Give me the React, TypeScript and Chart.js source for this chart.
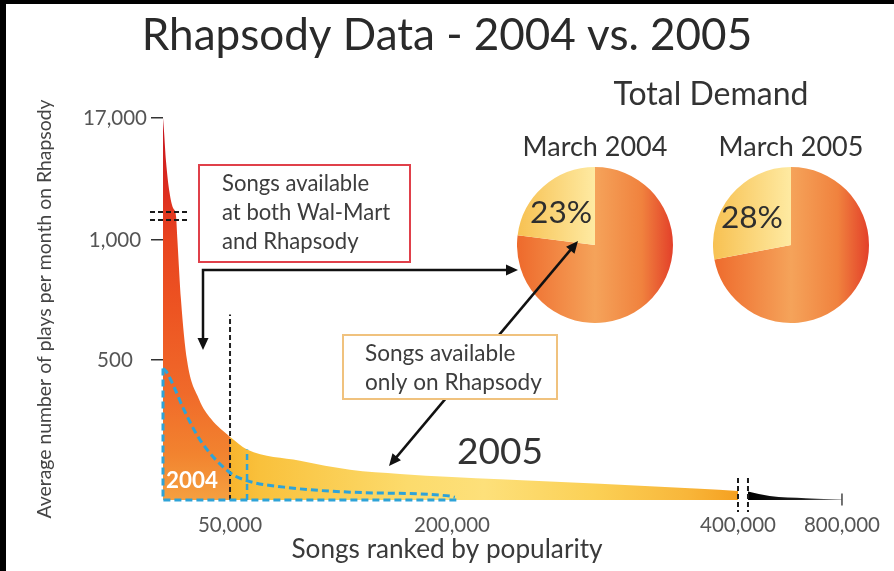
import React, { useEffect, useRef } from 'react';
import { Chart, LinearScale, registerables } from 'chart.js';

// ---------------- data ----------------
const TITLE = 'Rhapsody Data - 2004 vs. 2005';
const X_TITLE = 'Songs ranked by popularity';
const Y_TITLE = 'Average number of plays per month on Rhapsody';

const X_TICKS = [50000, 200000, 400000, 800000];
const Y_TICKS = [500, 1000, 17000];

// 2005 curve, head: songs available at both Wal-Mart and Rhapsody
const RANK_2005_BOTH = [0, 700, 2240, 4850, 7460, 9700, 10750, 13430, 17900, 26870, 35800, 50000];
const PLAYS_2005_BOTH = [17000, 15000, 10000, 5000, 2500, 1150, 1000, 750, 500, 360, 290, 225];
// 2005 curve, songs available only on Rhapsody
const RANK_2005_ONLY = [50000, 61500, 97300, 131100, 164900, 200000, 233600, 303500, 373400, 400000];
const PLAYS_2005_ONLY = [225, 180, 140, 108, 93, 82, 74, 58, 40, 32];
// 2005 curve beyond the axis break
const RANK_2005_TAIL = [410000, 500000, 650000, 800000];
const PLAYS_2005_TAIL = [30, 14, 6, 1.5];
// 2004 curve
const RANK_2004 = [0, 2240, 8580, 14900, 27600, 49250, 60800, 86500, 131100, 198600, 202000];
const PLAYS_2004 = [470, 460, 400, 330, 215, 100, 70, 46, 28, 14, 10];
// cut-off markers (rank, height of the marker)
const CUTOFF_2005 = [50000, 690];
const CUTOFF_2004 = [61500, 180];

// Total demand pies: [both Wal-Mart and Rhapsody, only on Rhapsody]
const PIE_LABELS = ['Songs available at both Wal-Mart and Rhapsody', 'Songs available only on Rhapsody'];
const PIE_MONTHS = ['March 2004', 'March 2005'];
const PIE_2004 = [77, 23];
const PIE_2005 = [72, 28];

// ---------------- broken axis scale ----------------
const FONT = 'Lato';
const INK = '#333333';
const BLUE = '#2ea3d8';

// value -> fraction of axis length (piecewise, with axis breaks)
const BREAKS: Record<string, number[][]> = {
  x: [[0, 0], [50000, 0.0927], [200000, 0.3997], [400000, 0.7953], [410000, 0.8091], [800000, 0.9391]],
  y: [[0, 0], [500, 0.3665], [1000, 0.6806], [1150, 0.7435], [17000, 1]],
};
const Y_BREAK_VALUE = 1150;
const X_BREAK = [400000, 410000];

class BrokenLinearScale extends LinearScale {
  static id = 'brokenLinear';
  static defaults = LinearScale.defaults;
  getPixelForValue(value: any) {
    if (value === null || value === undefined || isNaN(value)) return NaN;
    const s = BREAKS[(this as any).id];
    let i = 1;
    while (i < s.length - 1 && value > s[i][0]) i++;
    const [v0, f0] = s[i - 1];
    const [v1, f1] = s[i];
    return this.getPixelForDecimal(f0 + ((value - v0) / (v1 - v0)) * (f1 - f0));
  }
  getValueForPixel(pixel: number) {
    const dec = this.getDecimalForPixel(pixel);
    const s = BREAKS[(this as any).id];
    let i = 1;
    while (i < s.length - 1 && dec > s[i][1]) i++;
    const [v0, f0] = s[i - 1];
    const [v1, f1] = s[i];
    return v0 + ((dec - f0) / (f1 - f0)) * (v1 - v0);
  }
}

Chart.register(...registerables, BrokenLinearScale);

const pts = (xs: number[], ys: number[]) => xs.map((x, i) => ({ x, y: ys[i] }));
const fmt = (v: any) => Number(v).toLocaleString('en-US');

function arrowHead(ctx: CanvasRenderingContext2D, fx: number, fy: number, tx: number, ty: number, len = 12, half = 5.5) {
  const a = Math.atan2(ty - fy, tx - fx);
  ctx.beginPath();
  ctx.moveTo(tx, ty);
  ctx.lineTo(tx - len * Math.cos(a) + half * Math.sin(a), ty - len * Math.sin(a) - half * Math.cos(a));
  ctx.lineTo(tx - len * Math.cos(a) - half * Math.sin(a), ty - len * Math.sin(a) + half * Math.cos(a));
  ctx.closePath();
  ctx.fill();
}

function seg(ctx: CanvasRenderingContext2D, x1: number, y1: number, x2: number, y2: number) {
  ctx.beginPath();
  ctx.moveTo(x1, y1);
  ctx.lineTo(x2, y2);
  ctx.stroke();
}

const W = 894;
const H = 571;
const PIE_TOP = 125;

export default function App() {
  const mainRef = useRef<HTMLCanvasElement>(null);
  const pieARef = useRef<HTMLCanvasElement>(null);
  const pieBRef = useRef<HTMLCanvasElement>(null);

  useEffect(() => {
    const m = document.createElement('canvas').getContext('2d')!;
    const fit = (text: string, width: number, weight = '400') => {
      m.font = `${weight} 100px ${FONT}`;
      return Math.round((1000 * width) / m.measureText(text).width) / 10;
    };
    const S = {
      title: fit(TITLE, 610),
      xTitle: fit(X_TITLE, 311),
      yTitle: fit(Y_TITLE, 420),
      tick: fit('17,000', 64),
      demand: fit('Total Demand', 195),
      month: fit('March 2004', 145),
      pct: fit('23%', 62),
      red: fit('at both Wal-Mart', 168),
      yel: fit('only on Rhapsody', 177),
      big: fit('2005', 86),
      small: fit('2004', 52, '700'),
    };

    const notes = {
      id: 'notes',
      afterDraw(chart: any) {
        const ctx: CanvasRenderingContext2D = chart.ctx;
        const xs = chart.scales.x;
        const ys = chart.scales.y;
        ctx.save();
        // axis breaks
        ctx.strokeStyle = '#1a1a1a';
        ctx.lineWidth = 2;
        ctx.setLineDash([5, 3]);
        const yb = ys.getPixelForValue(Y_BREAK_VALUE);
        [yb - 4, yb + 4].forEach((y) => seg(ctx, xs.left - 13, y, xs.left + 24, y));
        X_BREAK.forEach((v) => {
          const x = xs.getPixelForValue(v);
          seg(ctx, x, ys.bottom - 22, x, ys.bottom + 12);
        });
        ctx.setLineDash([]);

        ctx.textBaseline = 'middle';
        // white 2004 label
        ctx.fillStyle = '#ffffff';
        ctx.font = `700 ${S.small}px ${FONT}`;
        ctx.textAlign = 'center';
        ctx.fillText('2004', 192, 481);

        // arrows
        ctx.strokeStyle = '#111';
        ctx.fillStyle = '#111';
        ctx.lineWidth = 2.5;
        ctx.beginPath();
        ctx.moveTo(506, 270);
        ctx.lineTo(203, 270);
        ctx.lineTo(203, 338);
        ctx.stroke();
        arrowHead(ctx, 203, 270, 518, 270);
        arrowHead(ctx, 203, 270, 203, 350);

        const p1 = [389, 466];
        const p2 = [578, 241];
        const a = Math.atan2(p2[1] - p1[1], p2[0] - p1[0]);
        seg(ctx, p1[0] + 11 * Math.cos(a), p1[1] + 11 * Math.sin(a), p2[0] - 11 * Math.cos(a), p2[1] - 11 * Math.sin(a));
        arrowHead(ctx, p1[0], p1[1], p2[0], p2[1]);
        arrowHead(ctx, p2[0], p2[1], p1[0], p1[1]);

        // boxes
        ctx.lineWidth = 2;
        ctx.fillStyle = '#fff';
        ctx.strokeStyle = '#e0404a';
        ctx.fillRect(199, 165, 211, 97);
        ctx.strokeRect(199, 165, 211, 97);
        ctx.fillStyle = '#fff';
        ctx.strokeStyle = '#f0c27e';
        ctx.fillRect(343, 335, 214, 64);
        ctx.strokeRect(343, 335, 214, 64);

        ctx.fillStyle = '#3d3d3d';
        ctx.textAlign = 'left';
        ctx.font = `400 ${S.red}px ${FONT}`;
        ['Songs available', 'at both Wal-Mart', 'and Rhapsody'].forEach((t, i) => ctx.fillText(t, 222, 184 + i * 29));
        ctx.font = `400 ${S.yel}px ${FONT}`;
        ['Songs available', 'only on Rhapsody'].forEach((t, i) => ctx.fillText(t, 365, 354 + i * 29));

        ctx.textAlign = 'center';
        ctx.fillStyle = INK;
        ctx.font = `400 ${S.big}px ${FONT}`;
        ctx.fillText('2005', 500, 452);
        ctx.font = `400 ${S.demand}px ${FONT}`;
        ctx.fillText('Total Demand', 711, 95);
        ctx.restore();
      },
    };

    const headFill = (c: any) => {
      const a = c.chart.chartArea;
      if (!a) return '#ee5a22';
      const g = c.chart.ctx.createLinearGradient(0, a.top, 0, a.bottom);
      g.addColorStop(0, '#c4121f');
      g.addColorStop(0.2, '#de2f1f');
      g.addColorStop(0.32, '#e8441f');
      g.addColorStop(0.5, '#ed5422');
      g.addColorStop(0.72, '#f06a2a');
      g.addColorStop(0.88, '#f2832f');
      g.addColorStop(1, '#f5a040');
      return g;
    };
    const onlyFill = (c: any) => {
      const xs = c.chart.scales.x;
      if (!xs || !c.chart.chartArea) return '#fbd050';
      const g = c.chart.ctx.createLinearGradient(xs.getPixelForValue(RANK_2005_ONLY[0]), 0, xs.getPixelForValue(X_BREAK[0]), 0);
      g.addColorStop(0, '#f7b52e');
      g.addColorStop(0.06, '#f9c13c');
      g.addColorStop(0.35, '#fcdb6c');
      g.addColorStop(0.5, '#fde07a');
      g.addColorStop(0.72, '#fbd055');
      g.addColorStop(0.9, '#f8b63a');
      g.addColorStop(1, '#f5a020');
      return g;
    };
    const tailFill = (c: any) => {
      const xs = c.chart.scales.x;
      if (!xs || !c.chart.chartArea) return '#111';
      const g = c.chart.ctx.createLinearGradient(xs.getPixelForValue(X_BREAK[1]), 0, xs.getPixelForValue(800000), 0);
      g.addColorStop(0, '#000');
      g.addColorStop(0.6, '#222');
      g.addColorStop(1, '#888');
      return g;
    };

    // subtitle (x title) with a compact line box so the tick labels get room
    const SUB_LH = 0.5;
    const subPadBottom = H - 550 - (SUB_LH / 2) * S.xTitle;
    const xAxisHeight = H - 500 - (SUB_LH * S.xTitle + subPadBottom);
    const tickFont = { family: FONT, size: S.tick, weight: '400' as const, lineHeight: 1.2 };

    const main = new Chart(mainRef.current!, {
      type: 'line',
      data: {
        datasets: [
          {
            label: '2004',
            data: pts(RANK_2004, PLAYS_2004),
            borderColor: BLUE,
            borderWidth: 3,
            borderDash: [7, 4],
            fill: false,
            pointRadius: 0,
            cubicInterpolationMode: 'monotone',
            clip: false,
          },
          {
            label: '2004 catalogue',
            data: [
              { x: RANK_2004[0], y: PLAYS_2004[0] },
              { x: RANK_2004[0], y: 0 },
              { x: RANK_2004[RANK_2004.length - 1], y: 0 },
              { x: RANK_2004[RANK_2004.length - 1], y: PLAYS_2004[PLAYS_2004.length - 1] },
            ],
            borderColor: BLUE,
            borderWidth: 3,
            borderDash: [7, 4],
            fill: false,
            pointRadius: 0,
            tension: 0,
            clip: false,
          },
          {
            label: '2004 cut-off',
            data: [{ x: CUTOFF_2004[0], y: 0 }, { x: CUTOFF_2004[0], y: CUTOFF_2004[1] }],
            borderColor: BLUE,
            borderWidth: 2.5,
            borderDash: [6, 4],
            fill: false,
            pointRadius: 0,
            clip: false,
          },
          {
            label: '2005 cut-off',
            data: [{ x: CUTOFF_2005[0], y: 0 }, { x: CUTOFF_2005[0], y: CUTOFF_2005[1] }],
            borderColor: '#222',
            borderWidth: 2,
            borderDash: [5, 3],
            fill: false,
            pointRadius: 0,
            clip: false,
          },
          {
            label: '2005 beyond 400,000',
            data: pts(RANK_2005_TAIL, PLAYS_2005_TAIL),
            borderColor: 'rgba(0,0,0,0)',
            borderWidth: 0,
            backgroundColor: tailFill,
            fill: 'origin',
            cubicInterpolationMode: 'monotone',
            pointRadius: (c: any) => (c.dataIndex === RANK_2005_TAIL.length - 1 ? 6 : 0),
            pointStyle: 'line',
            pointRotation: 90,
            pointBorderColor: '#444',
            pointBorderWidth: 1.5,
            clip: false,
          },
          {
            label: '2005 only on Rhapsody',
            data: pts(RANK_2005_ONLY, PLAYS_2005_ONLY),
            borderColor: 'rgba(0,0,0,0)',
            borderWidth: 0,
            backgroundColor: onlyFill,
            fill: 'origin',
            pointRadius: 0,
            cubicInterpolationMode: 'monotone',
          },
          {
            label: '2005 at both Wal-Mart and Rhapsody',
            data: pts(RANK_2005_BOTH, PLAYS_2005_BOTH),
            borderColor: 'rgba(0,0,0,0)',
            borderWidth: 0,
            backgroundColor: headFill,
            fill: 'origin',
            pointRadius: 0,
            cubicInterpolationMode: 'monotone',
          },
        ],
      },
      options: {
        responsive: true,
        maintainAspectRatio: false,
        animation: false,
        events: [],
        layout: { padding: { left: 8, right: 8, top: 0, bottom: 0 } },
        plugins: {
          legend: { display: false },
          tooltip: { enabled: false },
          title: {
            display: true,
            text: TITLE,
            color: '#2a2a2a',
            font: { family: FONT, size: S.title, weight: '400', lineHeight: 1.2 },
            padding: { top: 36 - 0.6 * S.title, bottom: 118 - 36 - 0.6 * S.title },
          },
          subtitle: {
            display: true,
            position: 'bottom',
            text: X_TITLE,
            color: '#3a3a3a',
            font: { family: FONT, size: S.xTitle, weight: '400', lineHeight: SUB_LH },
            padding: { top: 0, bottom: subPadBottom },
          },
        },
        scales: {
          x: {
            type: 'brokenLinear' as any,
            min: 0,
            max: 800000,
            afterBuildTicks: (s: any) => {
              s.ticks = X_TICKS.map((v) => ({ value: v }));
            },
            afterFit: (s: any) => {
              s.height = xAxisHeight;
            },
            grid: { display: false },
            border: { display: false },
            ticks: {
              callback: fmt,
              autoSkip: false,
              maxRotation: 0,
              minRotation: 0,
              color: '#555',
              font: tickFont,
              padding: 17 - 0.6 * S.tick,
            },
          },
          y: {
            type: 'brokenLinear' as any,
            min: 0,
            max: 17000,
            afterBuildTicks: (s: any) => {
              s.ticks = Y_TICKS.map((v) => ({ value: v }));
            },
            afterFit: (s: any) => {
              s.width = 155;
            },
            grid: { drawOnChartArea: false, drawTicks: true, tickLength: 12, color: '#333', lineWidth: 1.5 },
            border: { display: false },
            ticks: {
              callback: fmt,
              crossAlign: 'center',
              padding: 4,
              color: '#555',
              font: tickFont,
            },
            title: {
              display: true,
              text: Y_TITLE,
              color: '#444',
              font: { family: FONT, size: S.yTitle, weight: '400', lineHeight: 1.2 },
              padding: { top: 45 - 8 - 0.6 * S.yTitle, bottom: 0 },
            },
          },
        },
      },
      plugins: [notes],
    } as any);

    const pieFill = (c: any) => {
      const a = c.chart.chartArea;
      if (!a) return '#f5a050';
      const g = c.chart.ctx.createLinearGradient(a.left, 0, a.right, 0);
      if (c.dataIndex === 0) {
        g.addColorStop(0, '#ee6a2c');
        g.addColorStop(0.5, '#f5a35a');
        g.addColorStop(0.8, '#f0823e');
        g.addColorStop(1, '#e3402a');
      } else {
        g.addColorStop(0, '#f7c152');
        g.addColorStop(0.5, '#feeaa2');
        g.addColorStop(1, '#feeaa2');
      }
      return g;
    };
    const pctPlugin = {
      id: 'pct',
      afterDatasetsDraw(chart: any) {
        const arc = chart.getDatasetMeta(0).data[1];
        if (!arc) return;
        const p = arc.getProps(['x', 'y', 'startAngle', 'endAngle', 'outerRadius'], true);
        const mid = (p.startAngle + p.endAngle) / 2;
        const r = p.outerRadius * 0.6;
        const ctx = chart.ctx;
        ctx.save();
        ctx.fillStyle = '#2e2e2e';
        ctx.font = `400 ${S.pct}px ${FONT}`;
        ctx.textAlign = 'center';
        ctx.textBaseline = 'middle';
        ctx.fillText(`${chart.data.datasets[0].data[1]}%`, p.x + Math.cos(mid) * r - 3, p.y + Math.sin(mid) * r + 3);
        ctx.restore();
      },
    };
    const makePie = (canvas: HTMLCanvasElement, values: number[], month: string) =>
      new Chart(canvas, {
        type: 'pie',
        data: { labels: PIE_LABELS, datasets: [{ data: values, backgroundColor: pieFill, borderWidth: 0 }] },
        options: {
          responsive: true,
          maintainAspectRatio: false,
          animation: false,
          events: [],
          layout: { padding: 0 },
          plugins: {
            legend: { display: false },
            tooltip: { enabled: false },
            title: {
              display: true,
              text: month,
              color: INK,
              font: { family: FONT, size: S.month, weight: '400', lineHeight: 1.2 },
              padding: { top: Math.max(0, 147 - PIE_TOP - 0.6 * S.month), bottom: Math.max(0, 20 - 0.6 * S.month) },
            },
          },
        },
        plugins: [pctPlugin],
      } as any);

    const pa = makePie(pieARef.current!, PIE_2004, PIE_MONTHS[0]);
    const pb = makePie(pieBRef.current!, PIE_2005, PIE_MONTHS[1]);
    return () => {
      main.destroy();
      pa.destroy();
      pb.destroy();
    };
  }, []);

  return (
    <div style={{ position: 'fixed', left: 0, top: 0, width: W, height: H, background: '#fff', overflow: 'hidden' }}>
      <div style={{ position: 'absolute', left: 517, top: PIE_TOP, width: 156, height: 198, zIndex: 1 }}>
        <canvas ref={pieARef} />
      </div>
      <div style={{ position: 'absolute', left: 713, top: PIE_TOP, width: 156, height: 198, zIndex: 1 }}>
        <canvas ref={pieBRef} />
      </div>
      <div style={{ position: 'absolute', left: 0, top: 0, width: W, height: H, zIndex: 2 }}>
        <canvas ref={mainRef} />
      </div>
      <div style={{ position: 'absolute', left: 0, top: 0, width: 6, height: H, background: '#000', zIndex: 3 }} />
      <div style={{ position: 'absolute', left: 0, top: 0, width: W, height: 4, background: '#000', zIndex: 3 }} />
    </div>
  );
}
